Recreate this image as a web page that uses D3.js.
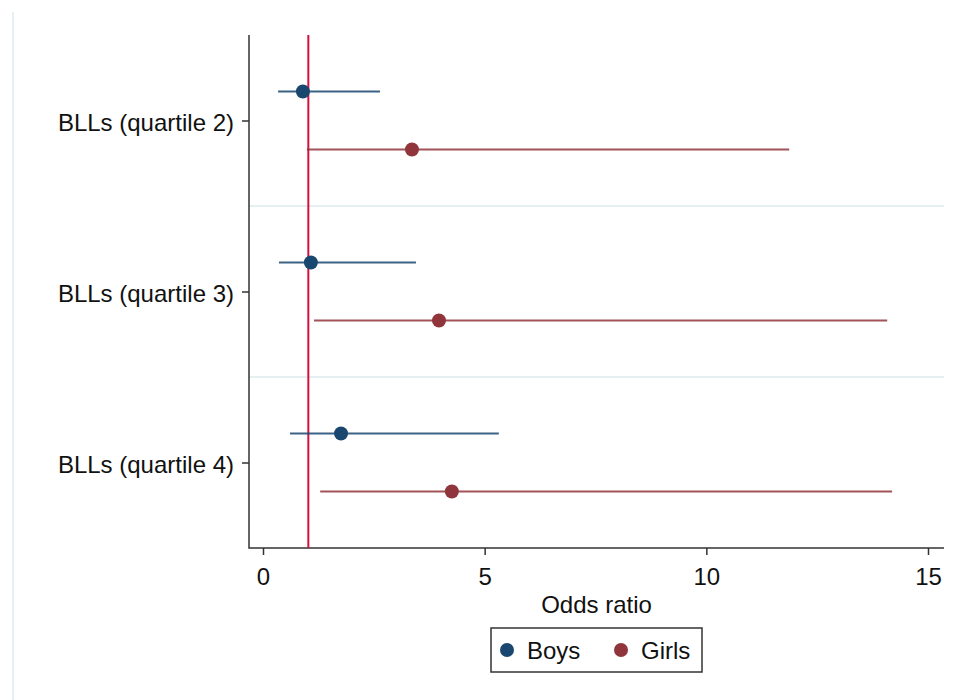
<!DOCTYPE html>
<html>
<head>
<meta charset="utf-8">
<script src="https://cdn.jsdelivr.net/npm/d3@7"></script>
<style>
  body { margin: 0; background: #fff; }
  text { font-family: "Liberation Sans", Arial, sans-serif; fill: #111; }
</style>
</head>
<body>
<div class="forest"></div>
<script>
// odds ratios
var categories = ["BLLs (quartile 2)", "BLLs (quartile 3)", "BLLs (quartile 4)"];
var seriesNames = ["Boys", "Girls"];
var boysOR = [0.90, 1.08, 1.76];
var boysLow = [0.34, 0.36, 0.61];
var boysHigh = [2.64, 3.45, 5.32];
var girlsOR = [3.36, 3.97, 4.26];
var girlsLow = [0.99, 1.15, 1.29];
var girlsHigh = [11.87, 14.08, 14.19];
var xTicks = [0, 5, 10, 15];
var refValue = 1;

var svgWidth = 963;
var svgHeight = 700;

var plot = { left: 249, right: 944, top: 35, bottom: 548 };
var colors = { Boys: "#1a476f", Girls: "#90353b" };
var fontSize = "24px";

var svg = d3.select(".forest")
  .append("svg")
  .attr("width", svgWidth)
  .attr("height", svgHeight);

// faint outer border on the left
svg.append("line")
  .attr("x1", 13).attr("x2", 13)
  .attr("y1", 12).attr("y2", svgHeight)
  .attr("stroke", "#e6f0f2")
  .attr("stroke-width", 2);

var xScale = d3.scaleLinear()
  .domain([0, 15])
  .range([263, 928]);

var yScale = d3.scaleBand()
  .domain(categories)
  .range([plot.top, plot.bottom]);

var offset = d3.scalePoint()
  .domain(seriesNames)
  .range([-29, 29]);

var rows = [];
categories.forEach(function(c, i) {
  rows.push({ cat: c, series: "Boys", or: boysOR[i], lo: boysLow[i], hi: boysHigh[i] });
  rows.push({ cat: c, series: "Girls", or: girlsOR[i], lo: girlsLow[i], hi: girlsHigh[i] });
});

function rowY(d) {
  return yScale(d.cat) + yScale.bandwidth() / 2 + offset(d.series);
}

// separators between groups
svg.selectAll(".sep")
  .data(categories.slice(1))
  .enter()
  .append("line")
  .attr("class", "sep")
  .attr("x1", plot.left).attr("x2", plot.right)
  .attr("y1", d => yScale(d)).attr("y2", d => yScale(d))
  .attr("stroke", "#e6eff1")
  .attr("stroke-width", 2);

// axes
var bottomAxis = d3.axisBottom(xScale)
  .tickValues(xTicks)
  .tickSizeOuter(0)
  .tickSize(7)
  .tickPadding(13);

var xAxis = svg.append("g")
  .attr("transform", `translate(0, ${plot.bottom})`)
  .call(bottomAxis);
xAxis.select(".domain").remove();
xAxis.selectAll("line").attr("stroke", "#333").attr("stroke-width", 1.5);
xAxis.selectAll("text").style("font-size", fontSize).attr("fill", "#111").style("font-family", "Liberation Sans, Arial, sans-serif");

var yCenters = d3.scalePoint()
  .domain(categories)
  .range([yScale(categories[0]) + yScale.bandwidth() / 2, yScale(categories[2]) + yScale.bandwidth() / 2]);

var leftAxis = d3.axisLeft(yCenters)
  .tickSizeOuter(0)
  .tickSize(7)
  .tickPadding(8);

var yAxis = svg.append("g")
  .attr("transform", `translate(${plot.left}, 0)`)
  .call(leftAxis);
yAxis.select(".domain").remove();
yAxis.selectAll("line").attr("stroke", "#333").attr("stroke-width", 1.5);
yAxis.selectAll("text")
  .style("font-size", fontSize)
  .attr("fill", "#111")
  .attr("dy", "0.42em")
  .style("font-family", "Liberation Sans, Arial, sans-serif");

svg.append("path")
  .attr("d", `M${plot.left},${plot.top}V${plot.bottom}H${plot.right}`)
  .attr("fill", "none")
  .attr("stroke", "#333")
  .attr("stroke-width", 1.5);

// reference line at OR = 1
svg.append("line")
  .attr("x1", xScale(refValue) + 1).attr("x2", xScale(refValue) + 1)
  .attr("y1", plot.top).attr("y2", plot.bottom)
  .attr("stroke", "#d4103f")
  .attr("stroke-width", 2);

// confidence intervals
svg.selectAll(".ci")
  .data(rows)
  .enter()
  .append("line")
  .attr("class", "ci")
  .attr("x1", d => xScale(d.lo))
  .attr("x2", d => xScale(d.hi))
  .attr("y1", rowY)
  .attr("y2", rowY)
  .attr("stroke", d => colors[d.series])
  .attr("stroke-opacity", 0.85)
  .attr("stroke-width", 2.2);

// point estimates
svg.selectAll(".pt")
  .data(rows)
  .enter()
  .append("circle")
  .attr("class", "pt")
  .attr("cx", d => xScale(d.or))
  .attr("cy", rowY)
  .attr("r", 7)
  .attr("fill", d => colors[d.series]);

svg.append("text")
  .attr("x", (plot.left + plot.right) / 2)
  .attr("y", 613)
  .attr("text-anchor", "middle")
  .style("font-size", fontSize)
  .text("Odds ratio");

// legend
var legend = svg.append("g");
legend.append("rect")
  .attr("x", 491).attr("y", 628)
  .attr("width", 211).attr("height", 44)
  .attr("fill", "#fff")
  .attr("stroke", "#333")
  .attr("stroke-width", 1.5);

var legendX = [507, 621];
seriesNames.forEach(function(s, i) {
  legend.append("circle")
    .attr("cx", legendX[i]).attr("cy", 650)
    .attr("r", 7)
    .attr("fill", colors[s]);
  legend.append("text")
    .attr("x", legendX[i] + 20).attr("y", 659)
    .style("font-size", fontSize)
    .text(s);
});
</script>
</body>
</html>
